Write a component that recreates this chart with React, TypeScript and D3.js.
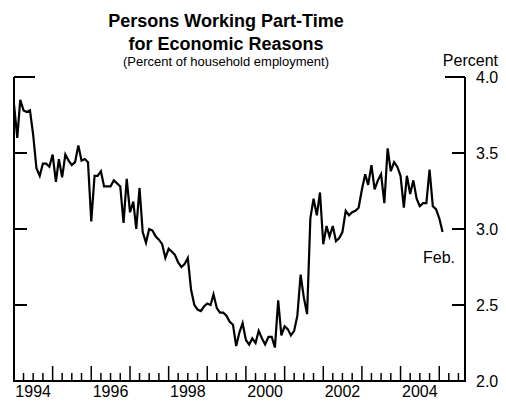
import React from "react";
import * as d3 from "d3";

// monthly, Jan 1994 - Feb 2005 (percent of household employment)
const values1994 = [3.82, 3.6, 3.85, 3.78, 3.77, 3.78, 3.62, 3.4, 3.35, 3.43, 3.43, 3.41];
const values1995 = [3.49, 3.31, 3.46, 3.34, 3.49, 3.45, 3.42, 3.44, 3.55, 3.45, 3.46, 3.44];
const values1996 = [3.05, 3.35, 3.35, 3.38, 3.28, 3.28, 3.28, 3.32, 3.3, 3.28, 3.04, 3.33];
const values1997 = [3.11, 3.18, 3.0, 3.27, 2.98, 2.91, 3.0, 2.99, 2.95, 2.93, 2.9, 2.81];
const values1998 = [2.87, 2.85, 2.83, 2.78, 2.75, 2.77, 2.81, 2.6, 2.5, 2.47, 2.46, 2.49];
const values1999 = [2.51, 2.5, 2.57, 2.48, 2.45, 2.45, 2.43, 2.39, 2.37, 2.23, 2.32, 2.38];
const values2000 = [2.27, 2.24, 2.28, 2.25, 2.33, 2.28, 2.24, 2.29, 2.29, 2.22, 2.53, 2.3];
const values2001 = [2.36, 2.34, 2.3, 2.33, 2.43, 2.7, 2.55, 2.44, 3.07, 3.2, 3.09, 3.24];
const values2002 = [2.9, 3.02, 2.95, 3.02, 2.92, 2.94, 2.98, 3.12, 3.09, 3.11, 3.12, 3.14];
const values2003 = [3.26, 3.36, 3.29, 3.42, 3.26, 3.32, 3.36, 3.17, 3.53, 3.38, 3.44, 3.41];
const values2004 = [3.35, 3.14, 3.35, 3.23, 3.32, 3.2, 3.15, 3.17, 3.17, 3.39, 3.15, 3.13];
const values2005 = [3.07, 2.98];

const yearLabels = [1994, 1996, 1998, 2000, 2002, 2004];
const yTicks = [4.0, 3.5, 3.0, 2.5, 2.0];

const allValues = [
  ...values1994, ...values1995, ...values1996, ...values1997, ...values1998, ...values1999,
  ...values2000, ...values2001, ...values2002, ...values2003, ...values2004, ...values2005,
];
const data = allValues.map((v, i) => ({ date: new Date(1994, i, 1), value: v }));

const W = 506;
const H = 402;
const font = "'Liberation Sans', Arial, Helvetica, sans-serif";

export default function App() {
  const x = d3.scaleTime()
    .domain([new Date(1994, 0, 1), new Date(2005, 8, 1)])
    .range([14, 465]);
  const y = d3.scaleLinear().domain([2, 4]).range([381, 77]);

  const line = d3.line<{ date: Date; value: number }>()
    .x((d) => x(d.date))
    .y((d) => y(d.value));

  const quarters = d3.timeMonth.every(3)!.range(new Date(1994, 0, 1), new Date(2005, 8, 1));
  const [x0, x1] = x.range();

  return (
    <svg width={W} height={H} style={{ position: "absolute", left: 0, top: 0 }} fontFamily={font}>
      <text x={226} y={27} textAnchor="middle" fontSize={18} fontWeight="bold">Persons Working Part-Time</text>
      <text x={226} y={50} textAnchor="middle" fontSize={18} fontWeight="bold">for Economic Reasons</text>
      <text x={226} y={66} textAnchor="middle" fontSize={13}>(Percent of household employment)</text>
      <text x={498} y={66} textAnchor="end" fontSize={16}>Percent</text>

      {/* frame */}
      <g stroke="#000" strokeWidth={2} fill="none">
        <line x1={x0} x2={x0} y1={y(4)} y2={y(2)} />
        <line x1={x1} x2={x1} y1={y(4)} y2={y(2)} />
        <line x1={x0 - 1} x2={x1 + 1} y1={y(2)} y2={y(2)} />
        {yTicks.filter((t) => t > 2).map((t) => (
          <g key={t}>
            <line x1={x0} x2={x0 + (t === 4 ? 21 : 13)} y1={y(t)} y2={y(t)} />
            <line x1={x1} x2={x1 - (t === 4 ? 20 : 13)} y1={y(t)} y2={y(t)} />
          </g>
        ))}
      </g>
      <g stroke="#000" strokeWidth={1.5}>
        {quarters.slice(1).map((d) => {
          const big = d.getMonth() === 0;
          return <line key={+d} x1={x(d)} x2={x(d)} y1={y(2)} y2={y(2) - (big ? 15 : 8)} />;
        })}
      </g>

      {yTicks.map((t) => (
        <text key={t} x={476} y={y(t)} dy="0.36em" fontSize={16}>{t.toFixed(1)}</text>
      ))}
      {yearLabels.map((yr) => (
        <text key={yr} x={x(new Date(yr, 6, 1))} y={397} textAnchor="middle" fontSize={16}>{yr}</text>
      ))}

      <path d={line(data) ?? ""} fill="none" stroke="#000" strokeWidth={2.2} strokeLinejoin="miter" />
      <text x={423} y={263} fontSize={16}>Feb.</text>
    </svg>
  );
}
